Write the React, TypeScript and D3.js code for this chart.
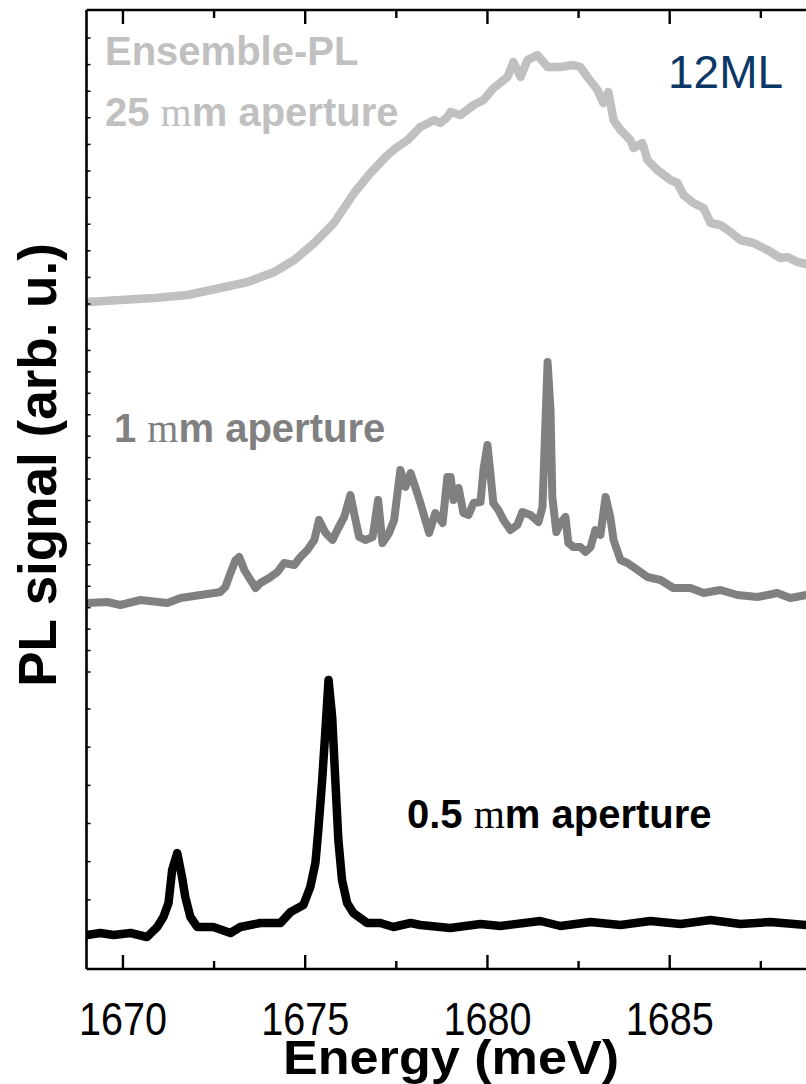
import React from "react";
import * as d3 from "d3";

// ---------- data (energy in meV, signal in arb. u.) ----------
const ensembleEnergy = [1669.03,1669.93,1670.86,1671.77,1672.67,1673.42,1674.15,1674.70,1675.25,1675.79,1676.34,1676.79,1677.26,1677.53,1677.81,1678.16,1678.54,1678.71,1678.90,1678.99,1679.26,1679.62,1679.89,1680.17,1680.55,1680.71,1680.91,1681.10,1681.37,1681.65,1682.00,1682.36,1682.55,1682.74,1683.02,1683.18,1683.32,1683.46,1683.65,1683.92,1684.01,1684.25,1684.39,1684.66,1685.02,1685.21,1685.38,1685.65,1685.93,1686.12,1686.39,1686.67,1686.94,1687.30,1687.68,1688.04,1688.23,1688.50,1688.75];
const ensembleSignal = [2,4,6,9,16,22,32,44,61,81,111,131,149,157,164,177,184,181,187,192,189,199,204,216,227,242,227,244,249,237,237,239,237,227,214,201,212,184,174,164,156,161,144,134,124,121,109,101,96,81,79,72,64,61,54,46,47,42,40];

const oneMmEnergy = [1669.03,1669.57,1669.93,1670.48,1671.22,1671.58,1672.13,1672.50,1672.67,1672.81,1672.95,1673.09,1673.19,1673.33,1673.50,1673.64,1673.77,1674.01,1674.24,1674.42,1674.70,1674.87,1675.06,1675.25,1675.38,1675.56,1675.75,1675.88,1676.07,1676.24,1676.34,1676.48,1676.65,1676.85,1677.00,1677.12,1677.30,1677.44,1677.61,1677.75,1677.89,1678.02,1678.16,1678.40,1678.57,1678.77,1678.90,1678.99,1679.07,1679.21,1679.34,1679.48,1679.62,1679.81,1679.89,1680.00,1680.08,1680.16,1680.30,1680.44,1680.63,1680.82,1680.96,1681.18,1681.40,1681.51,1681.65,1681.73,1681.78,1681.89,1682.00,1682.14,1682.22,1682.36,1682.55,1682.69,1682.83,1682.96,1683.10,1683.24,1683.37,1683.46,1683.65,1683.84,1684.12,1684.39,1684.75,1685.10,1685.57,1685.93,1686.39,1686.86,1687.41,1687.95,1688.31,1688.75];
const oneMmSignal = [69,70,67,72,69,74,77,79,80,85,99,112,115,102,92,84,89,94,100,109,107,115,122,132,152,139,132,142,155,177,159,135,132,135,172,129,139,152,202,185,199,185,169,139,159,149,195,195,172,184,159,157,169,170,202,227,199,169,162,152,142,147,160,157,150,165,310,262,175,140,149,155,129,125,125,120,125,142,137,175,155,132,112,109,102,95,92,84,84,79,82,77,75,79,74,77];

const halfMmEnergy = [1669.02,1669.38,1669.74,1670.21,1670.66,1670.94,1671.11,1671.25,1671.35,1671.49,1671.62,1671.71,1671.85,1672.04,1672.48,1672.95,1673.22,1673.77,1674.32,1674.60,1674.95,1675.14,1675.28,1675.36,1675.46,1675.55,1675.64,1675.74,1675.83,1675.91,1676.01,1676.15,1676.32,1676.70,1677.06,1677.42,1677.89,1678.16,1678.98,1679.81,1680.36,1681.45,1682.00,1682.83,1683.65,1684.47,1685.30,1686.12,1686.94,1687.76,1688.75];
const halfMmSignal = [3,5,3,5,1,11,21,35,68,85,61,41,21,11,11,5,11,15,15,26,33,51,75,108,155,205,258,221,155,98,58,35,25,15,15,11,15,13,10,14,12,17,12,16,13,17,14,18,14,16,13];

const majorEnergyTicks = [1670, 1675, 1680, 1685, 1690];
const minorEnergyTicks = [1672.5, 1677.5, 1682.5, 1687.5];
const topPanelTickCount = 10;
const midPanelTickCount = 16;
const botPanelTickCount = 6;

const W = 806;
const H = 1084;
const left = 86.5;
const top = 10;
const bottom = 969;

export default function App() {
  const x = d3.scaleLinear().domain([1669, 1690]).range([left, left + 21 * 36.45]);
  const yTop = d3.scaleLinear().domain([0, 266]).range([304, 38]);
  const yMid = d3.scaleLinear().domain([0, 343]).range([672, 329]);
  const yBot = d3.scaleLinear().domain([0, 229]).range([938, 709]);

  const topTicks = d3.range(0, topPanelTickCount + 1).map((i) => (i * 266) / topPanelTickCount);
  const midTicks = d3.range(0, midPanelTickCount + 1).map((i) => (i * 343) / midPanelTickCount);
  const botTicks = d3.range(0, botPanelTickCount + 1).map((i) => (i * 229) / botPanelTickCount);

  const mk = (ys: d3.ScaleLinear<number, number>, e: number[], s: number[]) =>
    d3.line<number>().x((_, i) => x(e[i])).y((d) => ys(d))(s) || "";

  const rightEdge = x(1690);
  const labelW = 88;
  const visibleLabels = majorEnergyTicks.filter((t) => x(t) + labelW / 2 <= W);
  const sans = "'Liberation Sans', Arial, sans-serif";
  const serif = "'Liberation Serif', 'Times New Roman', serif";

  return (
    <svg width={W} height={H} style={{ position: "absolute", left: 0, top: 0, background: "#fff" }}>
      <defs>
        <clipPath id="plot">
          <rect x={left} y={top} width={rightEdge - left} height={bottom - top} />
        </clipPath>
      </defs>
      <rect x={0} y={0} width={W} height={H} fill="#fff" />
      <g clipPath="url(#plot)" fill="none" strokeLinejoin="round" strokeLinecap="round">
        <path d={mk(yTop, ensembleEnergy, ensembleSignal)} stroke="#c0c0c0" strokeWidth={8.5} />
        <path d={mk(yMid, oneMmEnergy, oneMmSignal)} stroke="#808080" strokeWidth={8} />
        <path d={mk(yBot, halfMmEnergy, halfMmSignal)} stroke="#000" strokeWidth={8.5} />
      </g>

      {/* frame */}
      <g stroke="#000" strokeWidth={2.6} fill="none">
        <line x1={left} x2={rightEdge} y1={top} y2={top} />
        <line x1={left} x2={rightEdge} y1={bottom} y2={bottom} />
        <line x1={left} x2={left} y1={top} y2={bottom} />
        <line x1={rightEdge} x2={rightEdge} y1={top} y2={bottom} />
      </g>

      {/* x ticks (bottom & top, inward) */}
      <g stroke="#000" strokeWidth={2.4}>
        {majorEnergyTicks.map((t) => (
          <g key={"M" + t}>
            <line x1={x(t)} x2={x(t)} y1={bottom} y2={bottom - 14} />
            <line x1={x(t)} x2={x(t)} y1={top} y2={top + 14} />
          </g>
        ))}
        {minorEnergyTicks.map((t) => (
          <g key={"m" + t}>
            <line x1={x(t)} x2={x(t)} y1={bottom} y2={bottom - 8} />
            <line x1={x(t)} x2={x(t)} y1={top} y2={top + 8} />
          </g>
        ))}
      </g>

      {/* y minor ticks (inward) */}
      <g stroke="#000" strokeWidth={1.5}>
        {topTicks.map((t, i) => (
          <line key={"t" + i} x1={left} x2={left + 4} y1={yTop(t)} y2={yTop(t)} />
        ))}
        {midTicks.map((t, i) => (
          <line key={"mi" + i} x1={left} x2={left + 4} y1={yMid(t)} y2={yMid(t)} />
        ))}
        {botTicks.map((t, i) => (
          <line key={"b" + i} x1={left} x2={left + 4} y1={yBot(t)} y2={yBot(t)} />
        ))}
      </g>

      {/* x tick labels (condensed) */}
      <g fontFamily={sans} fontSize={47} fill="#000" textAnchor="middle">
        {visibleLabels.map((t) => (
          <text key={"l" + t} x={x(t)} y={1035} textLength={labelW} lengthAdjust="spacingAndGlyphs">
            {t}
          </text>
        ))}
      </g>

      {/* axis titles */}
      <text x={451} y={1074} fontFamily={sans} fontWeight="bold" fontSize={48} textAnchor="middle" fill="#000"
        textLength={336} lengthAdjust="spacingAndGlyphs">
        Energy (meV)
      </text>
      <text
        transform="translate(56,465) rotate(-90)"
        fontFamily={sans}
        fontWeight="bold"
        fontSize={53}
        textAnchor="middle"
        fill="#000"
      >
        PL signal (arb. u.)
      </text>

      {/* annotations */}
      <g fontFamily={sans} fontWeight="bold" fontSize={40}>
        <text x={105} y={65} fill="#c0c0c0">Ensemble-PL</text>
        <text x={105} y={126} fill="#c0c0c0">
          25 <tspan fontFamily={serif} fontWeight="normal">m</tspan>m aperture
        </text>
        <text x={114} y={442} fill="#808080">
          1 <tspan fontFamily={serif} fontWeight="normal">m</tspan>m aperture
        </text>
        <text x={407} y={828} fill="#000">
          0.5 <tspan fontFamily={serif} fontWeight="normal">m</tspan>m aperture
        </text>
      </g>
      <text x={668} y={88} fontFamily={sans} fontSize={46} fill="#0a3766">
        12ML
      </text>
    </svg>
  );
}
